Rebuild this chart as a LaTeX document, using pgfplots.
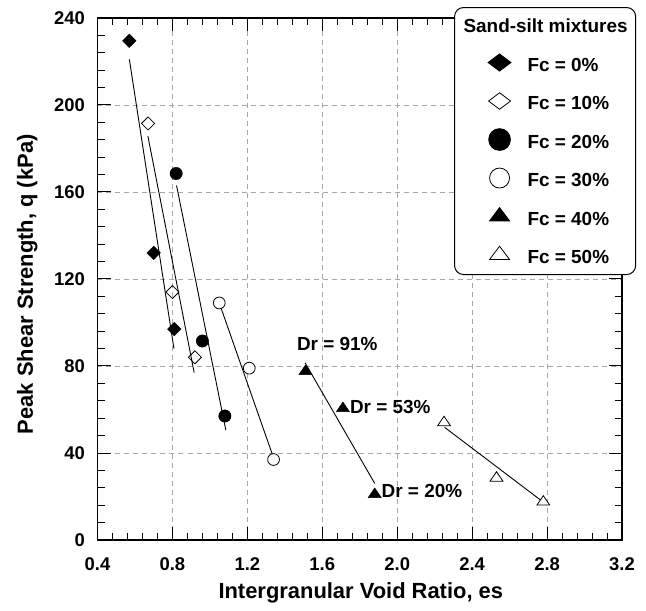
\documentclass[border=0pt]{standalone}
\usepackage{fontspec}
\setmainfont{Liberation Sans}
\usepackage{pgfplots}
\pgfplotsset{compat=1.18}
\newcommand{\tickfont}{\fontsize{18.5}{21}\selectfont\bfseries}
\newcommand{\labelfont}{\fontsize{22}{25}\selectfont\bfseries}
\newcommand{\legfont}{\fontsize{19}{22}\selectfont\bfseries}
\begin{document}
\begin{tikzpicture}
\path[use as bounding box] (-97.5bp,-71bp) rectangle (548.5bp,540bp);
\begin{axis}[
    at={(0bp,0bp)}, anchor=south west,
    width=524.5bp, height=522bp, scale only axis,
    xmin=0.4, xmax=3.2, ymin=0, ymax=240,
    xtick={0.4,0.8,1.2,1.6,2.0,2.4,2.8,3.2},
    ytick={0,40,80,120,160,200,240},
    minor x tick num=4, minor y tick num=4,
    xtick pos=both, ytick pos=both,
    tick align=inside,
    major tick length=13bp, minor tick length=7bp,
    every tick/.style={black, line width=1bp},
    axis line style={line width=1.3bp},
    grid=major,
    major grid style={gray!70, dash pattern=on 5bp off 4bp, line width=0.8bp},
    /pgf/number format/assume math mode=true,
    xticklabel={\pgfmathprintnumber[fixed,fixed zerofill,precision=1]{\tick}},
    xticklabel style={font=\tickfont, inner sep=0pt, yshift=-17bp},
    yticklabel style={font=\tickfont, inner sep=0pt, xshift=-12.5bp},
    xlabel={Intergranular Void Ratio, es},
    ylabel={Peak Shear Strength, q (kPa)},
    xlabel style={font=\labelfont, at={(axis description cs:0.502,-0.1015)}, anchor=center},
    ylabel style={font=\labelfont, at={(axis description cs:-0.134,0.49)}, anchor=center},
    legend style={at={(axis description cs:1.027,1.021)}, anchor=north east,
        draw=black, line width=1bp, rounded corners=9bp, fill=white,
        font=\legfont, inner xsep=0bp, inner ysep=11bp, row sep=17.5bp,
        nodes={inner sep=0pt, text height=14bp, text depth=0bp}},
    legend cell align=left,
    legend image code/.code={\path[draw=none,fill=none] (-45bp,0bp) rectangle (28bp,14bp);
        \begin{pgfinterruptboundingbox}
        \draw[#1,sharp corners] plot coordinates {(0bp,1.5bp)};
        \end{pgfinterruptboundingbox}},
]
% fitted lines
\addplot[black, line width=0.9bp, forget plot] coordinates {(0.57,221) (0.808,88)};
\addplot[black, line width=0.9bp, forget plot] coordinates {(0.669,185.7) (0.916,77)};
\addplot[black, line width=0.9bp, forget plot] coordinates {(0.822,163) (1.085,50.5)};
\addplot[black, line width=0.9bp, forget plot] coordinates {(1.05,109) (1.343,37)};
\addplot[black, line width=0.9bp, forget plot] coordinates {(1.508,81.5) (1.88,26)};
\addplot[black, line width=0.9bp, forget plot] coordinates {(2.253,51.8) (2.80,16.1)};
% data
\addplot[only marks, forget plot, mark=square*, mark size=4.8bp,
    mark options={rotate=45, fill=black, draw=black}]
    coordinates {(0.57,229.5) (0.70,132) (0.81,97)};
\addplot[only marks, forget plot, mark=square, mark size=4.6bp,
    mark options={rotate=45, fill=white, draw=black, line width=0.8bp}]
    coordinates {(0.67,191.5) (0.80,114) (0.92,84)};
\addplot[only marks, forget plot, mark=*, mark size=6.2bp,
    mark options={fill=black, draw=black}]
    coordinates {(0.82,168.5) (0.96,91.5) (1.08,57)};
\addplot[only marks, forget plot, mark=*, mark size=5.9bp,
    mark options={fill=white, draw=black, line width=0.8bp}]
    coordinates {(1.05,109) (1.21,79) (1.34,37)};
\addplot[only marks, forget plot, mark=triangle*, mark size=7.6bp,
    mark options={yscale=0.85, fill=black, draw=black}]
    coordinates {(1.51,77.5) (1.71,60.5) (1.88,21)};
\addplot[only marks, forget plot, mark=triangle*, mark size=7.4bp,
    mark options={yscale=0.85, fill=white, draw=black, line width=0.8bp}]
    coordinates {(2.25,54) (2.53,28.5) (2.78,17.5)};
% labels
\node[anchor=west, inner sep=0pt, font=\legfont] at (axis cs:1.464,90) {Dr = 91\%};
\node[anchor=west, inner sep=0pt, font=\legfont] at (axis cs:1.747,61.1) {Dr = 53\%};
\node[anchor=west, inner sep=0pt, font=\legfont] at (axis cs:1.916,22.7) {Dr = 20\%};
% legend
\addlegendimage{empty legend}
\addlegendentry{\hspace*{-64bp}Sand-silt mixtures\hspace*{8bp}}
\addlegendimage{only marks, mark=diamond*, mark size=11.3bp, mark options={rotate=90, fill=black, draw=black}}
\addlegendentry{Fc = 0\%}
\addlegendimage{only marks, mark=diamond*, mark size=11bp, mark options={rotate=90, fill=white, draw=black, line width=0.8bp}}
\addlegendentry{Fc = 10\%}
\addlegendimage{only marks, mark=*, mark size=10.8bp, mark options={fill=black, draw=black}}
\addlegendentry{Fc = 20\%}
\addlegendimage{only marks, mark=*, mark size=10bp, mark options={fill=white, draw=black, line width=0.8bp}}
\addlegendentry{Fc = 30\%}
\addlegendimage{only marks, mark=triangle*, mark size=11.5bp, mark options={yscale=0.77, fill=black, draw=black}}
\addlegendentry{Fc = 40\%}
\addlegendimage{only marks, mark=triangle*, mark size=11.5bp, mark options={yscale=0.77, fill=white, draw=black, line width=0.8bp}}
\addlegendentry{Fc = 50\%}
\end{axis}
\end{tikzpicture}
\end{document}
